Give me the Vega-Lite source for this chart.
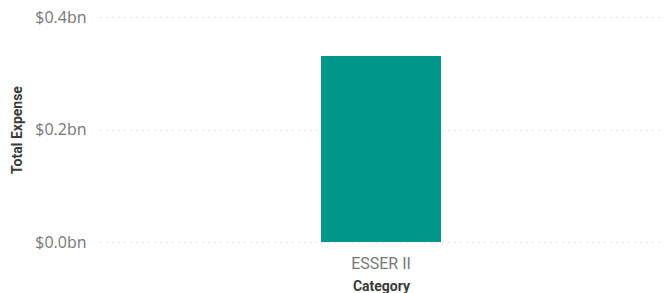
{
  "$schema": "https://vega.github.io/schema/vega-lite/v6.json",
  "autosize": {"type": "none"},
  "width": 562,
  "height": 225,
  "padding": {"left": 100, "top": 17, "right": 4, "bottom": 51},
  "background": "white",
  "data": {"values": [{"Category": "ESSER II", "Total Expense": 330700000}]},
  "mark": {"type": "bar", "width": 120, "color": "#00968A"},
  "encoding": {
    "x": {
      "field": "Category",
      "type": "nominal",
      "title": "Category",
      "axis": {
        "domain": false,
        "ticks": false,
        "labelAngle": 0,
        "labelFont": "Roboto",
        "labelFontSize": 16,
        "labelColor": "#777777",
        "labelPadding": 13,
        "titleFont": "Roboto",
        "titleFontSize": 14,
        "titleFontWeight": "bold",
        "titleColor": "#3a3a3a",
        "titlePadding": 8
      }
    },
    "y": {
      "field": "Total Expense",
      "type": "quantitative",
      "title": "Total Expense",
      "scale": {"domain": [0, 400000000]},
      "axis": {
        "values": [0, 200000000, 400000000],
        "labelExpr": "'$' + format(datum.value / 1e9, '.1f') + 'bn'",
        "domain": false,
        "ticks": false,
        "grid": true,
        "gridColor": "#c8c8c8",
        "gridDash": [1, 5],
        "gridWidth": 1,
        "labelFont": "Open Sans",
        "labelFontSize": 16,
        "labelColor": "#777777",
        "labelPadding": 14,
        "titleFont": "Roboto",
        "titleFontSize": 14,
        "titleFontWeight": "bold",
        "titleColor": "#3a3a3a",
        "titlePadding": 10
      }
    }
  },
  "config": {"view": {"stroke": null}}
}
